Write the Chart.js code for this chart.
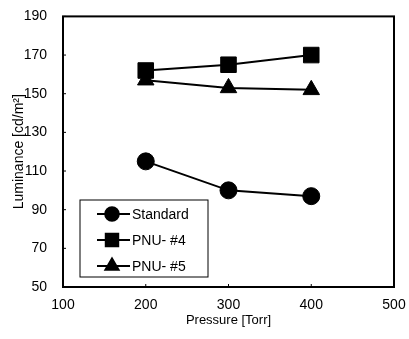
<!DOCTYPE html>
<html>
<head>
<meta charset="utf-8">
<script src="https://cdn.jsdelivr.net/npm/chart.js@4/dist/chart.umd.min.js"></script>
<style>
  html, body { margin: 0; padding: 0; background: #fff; }
  #wrap { width: 409px; height: 339px; }
</style>
</head>
<body>
<div id="wrap"><canvas id="c" width="409" height="339"></canvas></div>
<script>
const pressure = [200, 300, 400]
const standard = [115, 100, 97]
const pnu4 = [162, 165, 170]
const pnu5 = [157, 153, 152]
const seriesNames = ['Standard', 'PNU- #4', 'PNU- #5']

const FONT = '"Liberation Sans", Arial, sans-serif'

const toPts = vals => vals.map((v, i) => ({ x: pressure[i], y: v }))

// frame, inward ticks and the boxed legend inside the plot
const framePlugin = {
  id: 'frame',
  afterDraw(chart) {
    const { ctx, chartArea: a, scales } = chart
    ctx.save()
    ctx.strokeStyle = '#000'
    ctx.lineWidth = 2
    ctx.strokeRect(a.left, a.top, a.right - a.left, a.bottom - a.top)
    ctx.lineWidth = 1
    ctx.beginPath()
    scales.x.ticks.forEach(t => {
      const px = scales.x.getPixelForValue(t.value)
      ctx.moveTo(px, a.bottom); ctx.lineTo(px, a.bottom - 3)
    })
    scales.y.ticks.forEach(t => {
      const py = scales.y.getPixelForValue(t.value)
      ctx.moveTo(a.left, py); ctx.lineTo(a.left + 3, py)
    })
    ctx.stroke()

    // legend
    const bx = a.left + 17, bw = 128, bh = 77, by = a.bottom - 10 - bh
    ctx.lineWidth = 1
    ctx.strokeRect(bx, by, bw, bh)
    ctx.font = '14px ' + FONT
    ctx.textBaseline = 'middle'
    ctx.fillStyle = '#000'
    chart.data.datasets.forEach((ds, i) => {
      const y = by + 14 + i * 26
      ctx.lineWidth = 2
      ctx.beginPath()
      ctx.moveTo(bx + 17, y); ctx.lineTo(bx + 50, y)
      ctx.stroke()
      Chart.helpers.drawPoint(ctx, {
        pointStyle: ds.pointStyle, radius: ds.pointRadius * 0.8,
        borderWidth: 1, rotation: 0
      }, bx + 32, y)
      ctx.fill()
      ctx.fillText(ds.label, bx + 52, y + 1)
    })
    ctx.restore()
  }
}

const mkSet = (label, vals, style, r) => ({
  label, data: toPts(vals),
  borderColor: '#000', backgroundColor: '#000',
  borderWidth: 2, pointStyle: style, pointRadius: r,
  pointBorderWidth: 1, pointBackgroundColor: '#000', tension: 0
})

new Chart(document.getElementById('c'), {
  type: 'line',
  data: {
    datasets: [
      mkSet(seriesNames[0], standard, 'circle', 8.5),
      mkSet(seriesNames[1], pnu4, 'rect', 11),
      mkSet(seriesNames[2], pnu5, 'triangle', 9.5)
    ]
  },
  options: {
    responsive: false,
    animation: false,
    layout: { padding: { top: 11, right: 15, left: 0, bottom: 0 } },
    plugins: { legend: { display: false }, tooltip: { enabled: false } },
    scales: {
      x: {
        type: 'linear', min: 100, max: 500,
        ticks: { stepSize: 100, color: '#000', font: { family: FONT, size: 14 }, padding: 2, maxRotation: 0 },
        grid: { display: false }, border: { display: false },
        title: { display: true, text: 'Pressure [Torr]', color: '#000', font: { family: FONT, size: 13 }, padding: { top: 0, bottom: 11 } },
        afterFit: s => { s.height = 52 }
      },
      y: {
        min: 50, max: 190,
        ticks: { stepSize: 20, color: '#000', font: { family: FONT, size: 14 }, padding: 8 },
        grid: { display: false }, border: { display: false },
        title: { display: true, text: 'Luminance [cd/m²]', color: '#000', font: { family: FONT, size: 14 }, padding: { top: 11, bottom: 0 } },
        afterFit: s => { s.width = 63 }
      }
    }
  },
  plugins: [framePlugin]
})
</script>
</body>
</html>
